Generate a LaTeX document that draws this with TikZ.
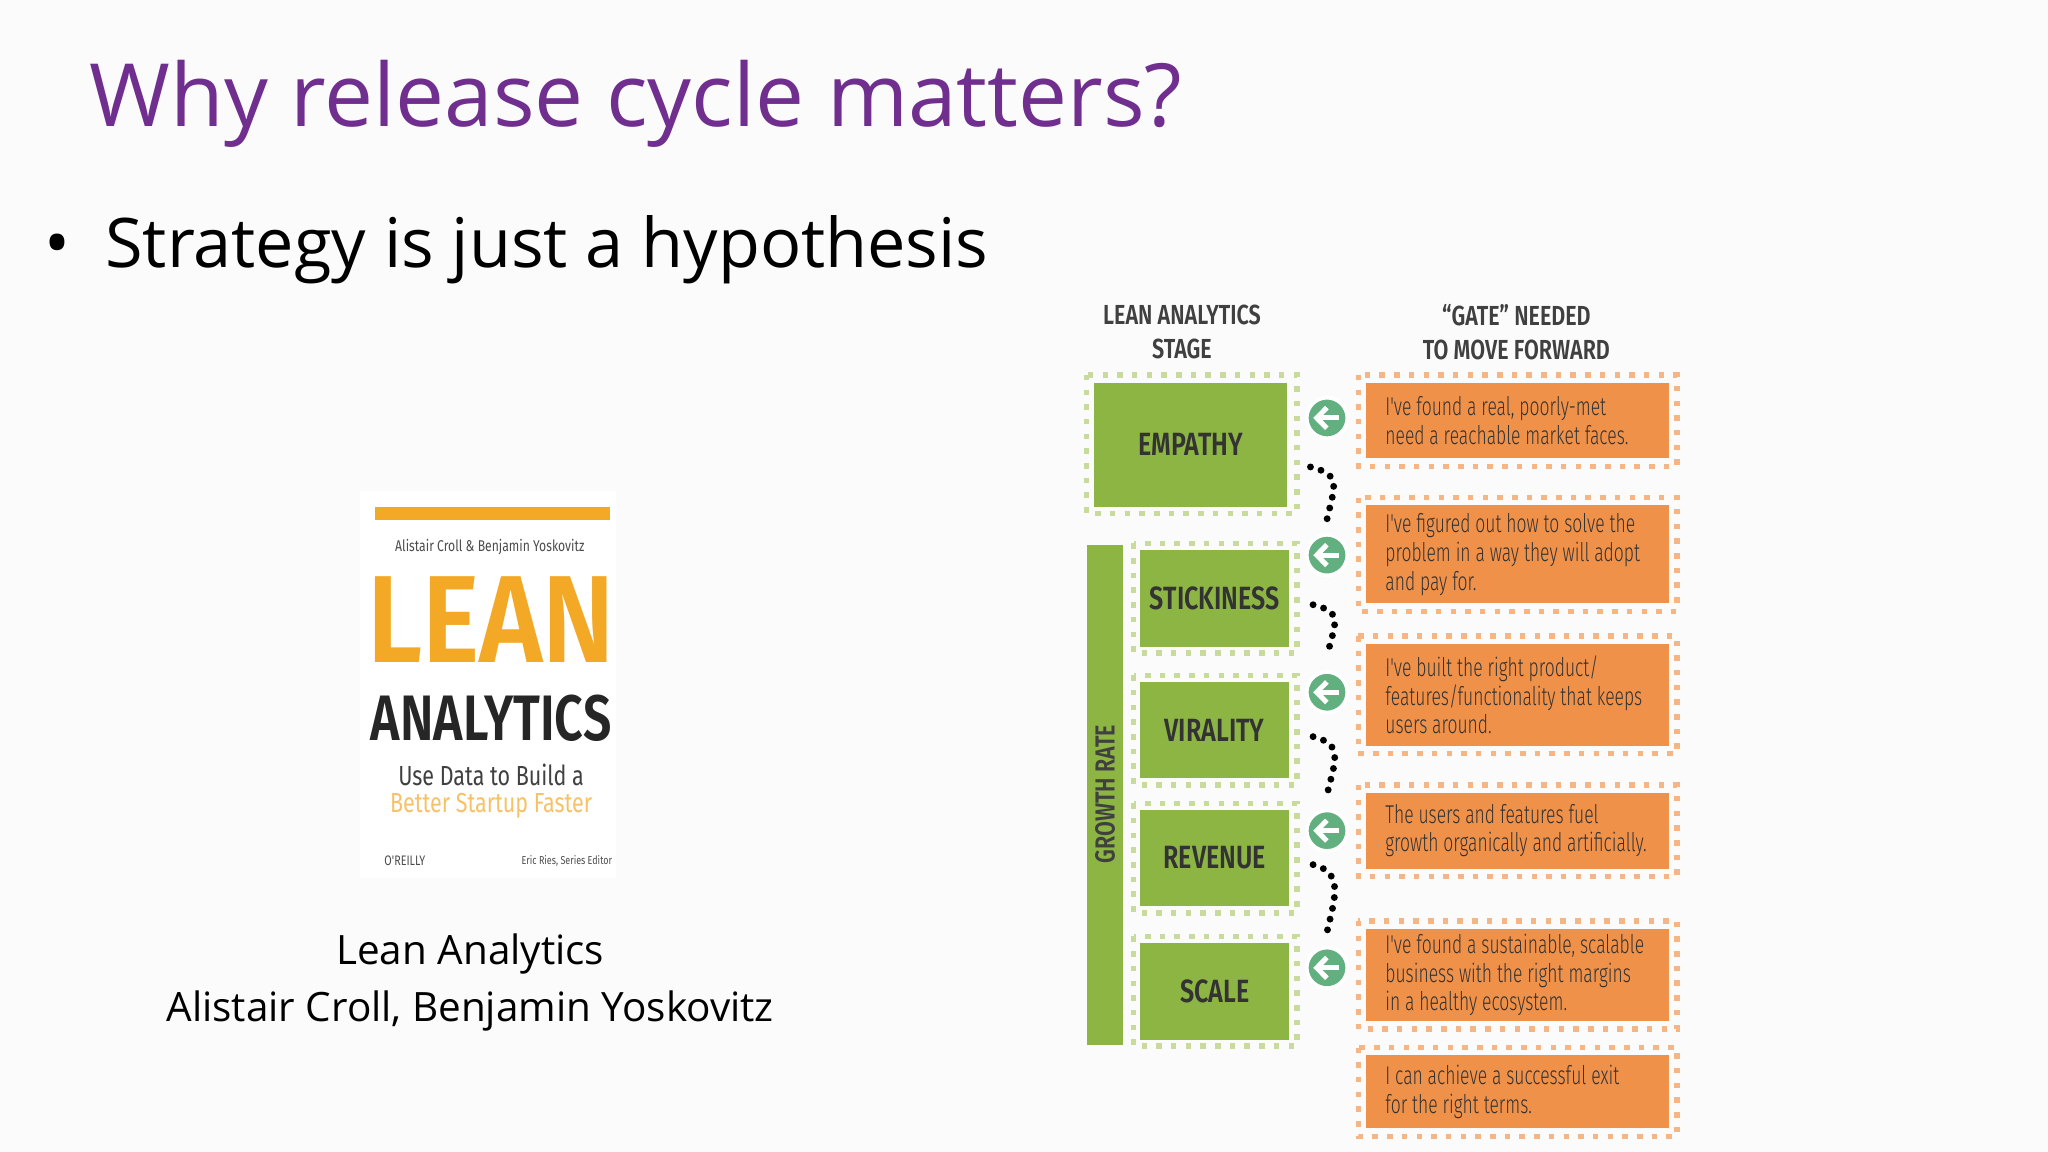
\documentclass[tikz,border=0pt]{standalone}
\usepackage{fontspec}
\setmainfont{Open Sans}
\newfontfamily\cond[FakeStretch=0.78]{Fira Sans}
\newfontfamily\gatef[FakeStretch=0.68]{Fira Sans Light}
\newfontfamily\condb[FakeStretch=0.78]{Fira Sans SemiBold}
\usetikzlibrary{arrows.meta}
\definecolor{ttl}{HTML}{702E8E}
\definecolor{gr}{HTML}{8DB544}
\definecolor{grl}{HTML}{C9DB9C}
\definecolor{og}{HTML}{F0914A}
\definecolor{ogl}{HTML}{F6B584}
\definecolor{cg}{HTML}{62B07F}
\definecolor{bk}{HTML}{F3A826}
\tikzset{
 stagebox/.style={fill=gr,inner sep=0pt,font=\condb\fontsize{7}{8}\selectfont,text=black!80},
 gatebox/.style={inner sep=0pt,font=\gatef\fontsize{5.6}{6.25}\selectfont,text=black!80,align=left},
 circ/.style={circle,fill=cg,draw=white,line width=0.8pt,minimum size=0.31cm,inner sep=0pt},
 hdr/.style={font=\condb\fontsize{6}{7.4}\selectfont,text=black!75,align=center},
 link/.style={line width=1.5pt,line cap=round,dash pattern=on 0pt off 2.4pt},
}
\begin{document}
\begin{tikzpicture}[x=0.01cm,y=-0.01cm]
\useasboundingbox (0,0) rectangle (1568,882);
\fill[black!1.5] (0,0) rectangle (1568,882);
% title
\node[anchor=base west,inner sep=0pt,text=ttl,font=\fontsize{19}{23}\selectfont] (title) at (68,97) {Why release cycle matters?};
\node[anchor=base west,inner sep=0pt,font=\fontsize{15}{18}\selectfont] (bul) at (33,205) {•};
\node[anchor=base west,inner sep=0pt,font=\fontsize{14.9}{18}\selectfont] (sub) at (80,205) {Strategy is just a hypothesis};
% book
\fill[white] (276,376) rectangle (472,672);
\fill[bk] (287,388) rectangle (467,398);
\node[font=\cond\fontsize{3.4}{4}\selectfont,text=black!70] (auth) at (375,419) {Alistair Croll \& Benjamin Yoskovitz};
\node[font=\condb\fontsize{27}{27}\selectfont,text=bk,inner sep=0pt,xscale=1.12] (lean) at (376,474) {LEAN};
\node[font=\condb\fontsize{14}{14}\selectfont,text=black!85,inner sep=0pt] (ana) at (376,550) {ANALYTICS};
\node[font=\cond\fontsize{6}{6.2}\selectfont,text=black!75,inner sep=0pt] (use) at (376,593) {Use Data to Build a};
\node[font=\cond\fontsize{6}{6.2}\selectfont,text=bk!70,inner sep=0pt] (bet) at (376,617) {Better Startup Faster};
\node[font=\cond\fontsize{3}{3}\selectfont,text=black!70,inner sep=0pt] (orl) at (310,659) {O'REILLY};
\node[font=\cond\fontsize{2.5}{3}\selectfont,text=black!70,inner sep=0pt] (ed) at (434,659) {Eric Ries, Series Editor};
\node[font=\fontsize{8.8}{12.4}\selectfont,align=center] (cap) at (360,752) {Lean Analytics\\Alistair Croll, Benjamin Yoskovitz};
% headers
\node[hdr] (h1) at (905,254) {LEAN ANALYTICS\\STAGE};
\node[hdr] (h2) at (1161,254) {“GATE” NEEDED\\TO MOVE FORWARD};
% stage boxes
\draw[grl,line width=1.2pt,dotted] (832,287) rectangle (993,393);
\node[stagebox,minimum width=1.47cm,minimum height=0.95cm] (emp) at (911.5,340.5) {EMPATHY};
\fill[gr] (832,417) rectangle (860,800);
\node[rotate=90,font=\condb\fontsize{6}{7}\selectfont,text=black!75] (grw) at (846,608) {GROWTH RATE};
\foreach \n/\t/\y in {st/STICKINESS/458, vi/VIRALITY/559, re/REVENUE/657, sc/SCALE/759}{
  \draw[grl,line width=1.2pt,dotted] (868,\y-42) rectangle (993,\y+42);
  \node[stagebox,minimum width=1.14cm,minimum height=0.74cm] (\n) at (930,\y) {\t};
}
% circles
\foreach \n/\y in {c1/320,c2/425,c3/530,c4/636,c5/741}{
  \node[circ] (\n) at (1016,\y) {};
  \draw[white,line width=1.1pt,-{Straight Barb[length=2.2pt,width=4.5pt]}] ([xshift=2.5pt]\n.center) -- ([xshift=-3pt]\n.center);
}
% dotted links
\draw[link] ([xshift=5pt,yshift=-0.17cm]emp.east) .. controls +(24,6) and +(6,-26) .. ([yshift=3pt]c2.north);
\draw[link] ([xshift=5pt,yshift=-0.05cm]st.east) .. controls +(24,6) and +(6,-26) .. ([yshift=3pt]c3.north);
\draw[link] ([xshift=5pt,yshift=-0.05cm]vi.east) .. controls +(24,6) and +(6,-26) .. ([yshift=3pt]c4.north);
\draw[link] ([xshift=5pt,yshift=-0.05cm]re.east) .. controls +(24,6) and +(6,-26) .. ([yshift=3pt]c5.north);
% gate boxes
\foreach \n/\ya/\yb/\t in {
 g1/287/357/{I've found a real, poorly-met\\need a reachable market faces.},
 g2/381/468/{I've figured out how to solve the\\problem in a way they will adopt\\and pay for.},
 g3/487/577/{I've built the right product/\\features/functionality that keeps\\users around.},
 g4/601/671/{The users and features fuel\\growth organically and artificially.},
 g5/705/788/{I've found a sustainable, scalable\\business with the right margins\\in a healthy ecosystem.},
 g6/802/870/{I can achieve a successful exit\\for the right terms.}}{
  \draw[ogl,line width=1.2pt,dotted] (1040,\ya) rectangle (1284,\yb);
  \fill[og] (1046,\ya+6) rectangle (1278,\yb-6);
  \node[gatebox,anchor=west] (\n) at (1060,{(\ya+\yb)/2}) {\t};
}
\end{tikzpicture}
\end{document}
